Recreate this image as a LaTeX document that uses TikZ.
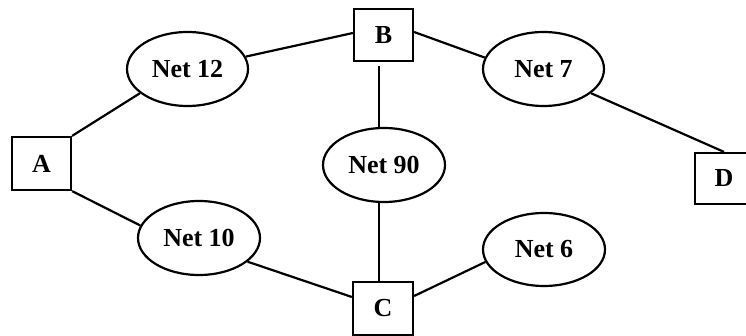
\documentclass[tikz,border=0pt]{standalone}
\usepackage{fontspec}
\setmainfont{Liberation Serif}
\usetikzlibrary{shapes.geometric}
\begin{document}
\begin{tikzpicture}[x=1pt,y=-1pt,
  box/.style={draw,line width=2.2pt,rectangle,inner sep=0pt,font=\fontsize{26}{30}\selectfont\bfseries},
  net/.style={draw,line width=2.2pt,ellipse,inner sep=0pt,minimum width=121pt,minimum height=74pt,font=\fontsize{26}{30}\selectfont\bfseries},
  link/.style={line width=2.2pt}]
\useasboundingbox (0,0) rectangle (746,336);
\clip (0,0) rectangle (746,336);
\node[box,minimum width=59pt,minimum height=53pt] (A) at (41.5,163.5) {A};
\node[box,minimum width=59pt,minimum height=52pt] (B) at (383.5,35) {B};
\node[box,minimum width=60pt,minimum height=53pt] (C) at (383,308.5) {C};
\node[box,minimum width=70pt,minimum height=51pt] (D) at (730,178.5) {};
\node[font=\fontsize{26}{30}\selectfont\bfseries] (Dl) at (724,178.5) {D};
\node[net] (N12) at (187.5,69) {Net 12};
\node[net] (N7) at (543.5,69) {Net 7};
\node[net,minimum width=122pt] (N90) at (384,165) {Net 90};
\node[net,minimum width=122pt] (N10) at (199,238) {Net 10};
\node[net,minimum width=122pt,minimum height=73pt] (N6) at (544,249.5) {Net 6};
\draw[link] (A.north east) -- (N12.-153);
\draw[link] (N12.12) -- ([yshift=2pt]B.west);
\draw[link] ([yshift=3pt]B.east) -- (N7.169);
\draw[link] (N7.-27) -- (Dl |- D.north);
\draw[link,shorten <=4pt] ([xshift=-4.5pt]B.south) -- ([xshift=-4.5pt]B.south |- N90.north);
\draw[link] ([xshift=-5pt]N90.south) -- ([xshift=-5pt]N90.south |- C.north);
\draw[link] (A.south east) -- (N10.168);
\draw[link] (N10.-26) -- ([yshift=11.5pt]C.west);
\draw[link] ([yshift=12.5pt]C.east) -- (N6.-168);
\end{tikzpicture}
\end{document}
